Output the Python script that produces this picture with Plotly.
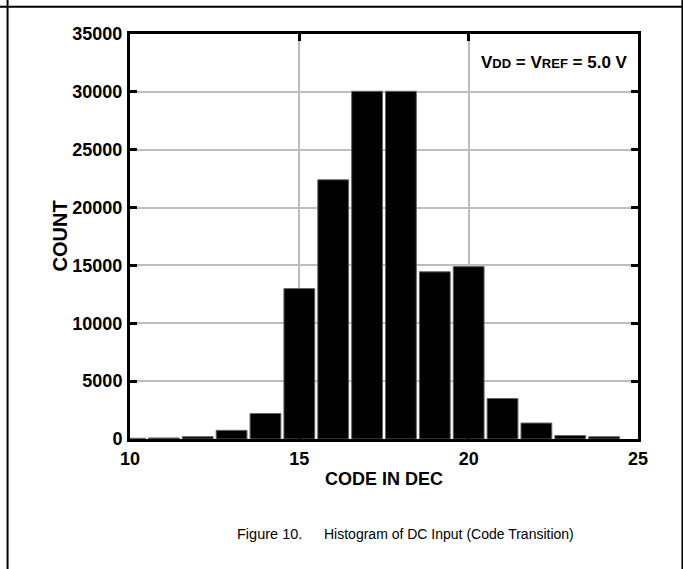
import plotly.graph_objects as go

codes = [10, 11, 12, 13, 14, 15, 16, 17, 18, 19, 20, 21, 22, 23, 24]
counts = [60, 90, 200, 750, 2200, 13000, 22400, 30050, 30050, 14450, 14900, 3500, 1380, 300, 200]

x_ticks = [10, 15, 20, 25]
y_ticks = [0, 5000, 10000, 15000, 20000, 25000, 30000, 35000]

FONT = "Liberation Sans, Arial, sans-serif"

fig = go.Figure()
fig.add_trace(go.Bar(
    x=codes, y=counts, width=0.91,
    marker=dict(color="black", line=dict(color="#666666", width=1)),
    showlegend=False, cliponaxis=True,
))

axis_common = dict(
    showline=True, linecolor="black", linewidth=3, mirror="allticks",
    ticks="inside", ticklen=7, tickwidth=3, tickcolor="black",
    showgrid=True, gridcolor="#bdbdbd", gridwidth=2,
    zeroline=False, automargin=False,
    tickfont=dict(family=FONT, size=18, color="black", weight="bold"),
)

fig.update_xaxes(range=[10, 25], tickvals=x_ticks, ticktext=[str(v) for v in x_ticks],
                 ticklabelstandoff=1, **axis_common)
fig.update_yaxes(range=[0, 35000], tickvals=y_ticks, ticktext=[str(v) for v in y_ticks],
                 ticklabelstandoff=1, **axis_common)

# axis titles
fig.add_annotation(
    x=0.5, y=0, xref="paper", yref="paper", xanchor="center", yanchor="middle",
    yshift=-40, text="<b>CODE IN DEC</b>", showarrow=False,
    font=dict(family=FONT, size=18, color="black"),
)
fig.add_annotation(
    x=0, y=0.5, xref="paper", yref="paper", xanchor="center", yanchor="middle",
    xshift=-71, yshift=0, textangle=-90, text="<b>COUNT</b>", showarrow=False,
    font=dict(family=FONT, size=20, color="black"),
)

fig.add_annotation(
    x=24.75, y=32500, xref="x", yref="y", xanchor="right", yanchor="middle",
    text="<b>V<span style='font-size:13px'>DD</span> = V<span style='font-size:13px'>REF</span> = 5.0 V</b>",
    showarrow=False, font=dict(family=FONT, size=17, color="black"),
)

fig.add_annotation(
    x=0, y=0, xref="paper", yref="paper", xanchor="right", yanchor="middle",
    xshift=303 - 129.5, yshift=-95, text="Figure 10.",
    showarrow=False, font=dict(family=FONT, size=14.5, color="black"),
)
fig.add_annotation(
    x=0, y=0, xref="paper", yref="paper", xanchor="left", yanchor="middle",
    xshift=321 - 129.5, yshift=-95, text="Histogram of DC Input (Code Transition)",
    showarrow=False, font=dict(family=FONT, size=14, color="black"),
)

# page frame lines
fig.add_shape(type="line", xref="paper", yref="paper", x0=-0.26, x1=1.1, y0=1.067, y1=1.067,
              line=dict(color="black", width=2))
fig.add_shape(type="line", xref="paper", yref="paper", x0=-0.241, x1=-0.241, y0=1.1, y1=-0.33,
              line=dict(color="black", width=2))
fig.add_shape(type="line", xref="paper", yref="paper", x0=1.0875, x1=1.0875, y0=1.1, y1=-0.33,
              line=dict(color="black", width=2))

fig.update_layout(
    width=683, height=569,
    margin=dict(l=130, r=45, t=34, b=130),
    paper_bgcolor="white", plot_bgcolor="white",
    bargap=0.1,
)

fig.write_html("out.html", config={"displayModeBar": False},
               post_script="document.body.style.margin='0px';document.body.style.overflow='hidden';")
